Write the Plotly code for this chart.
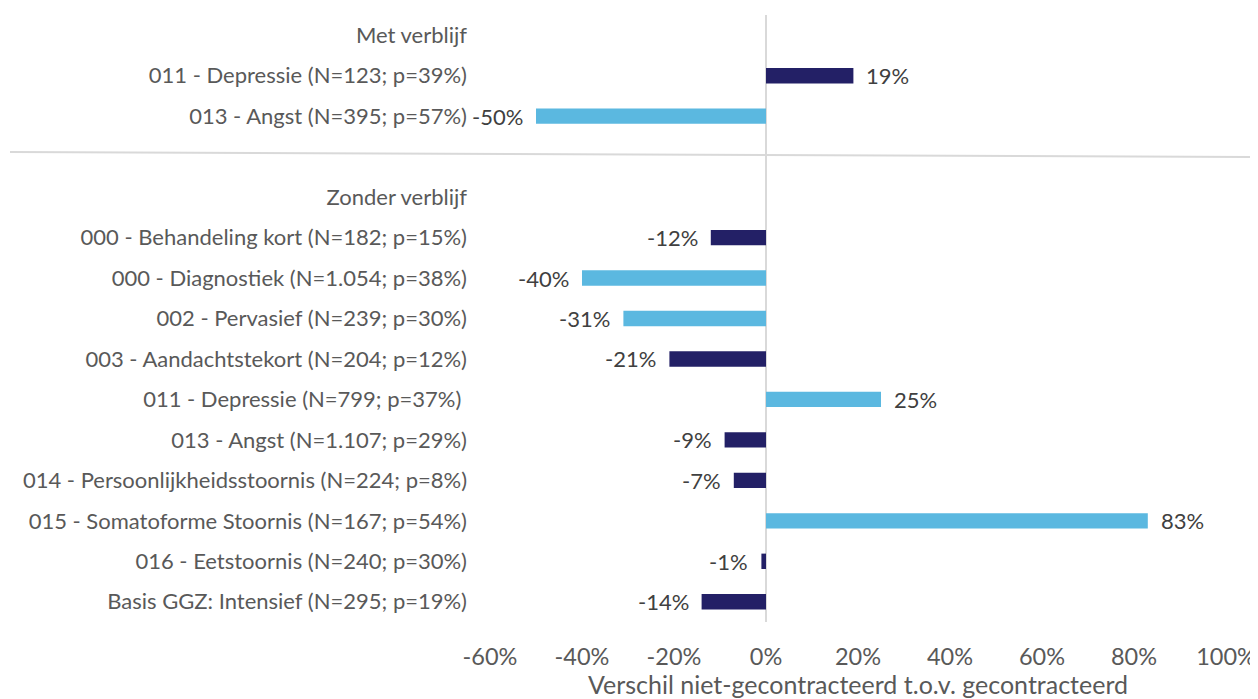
import plotly.graph_objects as go

categories = [
    "Met verblijf",
    "011 - Depressie (N=123; p=39%)",
    "013 - Angst (N=395; p=57%)",
    " ",
    "Zonder verblijf",
    "000 - Behandeling kort (N=182; p=15%)",
    "000 - Diagnostiek (N=1.054; p=38%)",
    "002 - Pervasief (N=239; p=30%)",
    "003 - Aandachtstekort (N=204; p=12%)",
    "011 - Depressie (N=799; p=37%) ",
    "013 - Angst (N=1.107; p=29%)",
    "014 - Persoonlijkheidsstoornis (N=224; p=8%)",
    "015 - Somatoforme Stoornis (N=167; p=54%)",
    "016 - Eetstoornis (N=240; p=30%)",
    "Basis GGZ: Intensief (N=295; p=19%)",
]
values = [None, 19, -50, None, None, -12, -40, -31, -21, 25, -9, -7, 83, -1, -14]
DARK = "#232066"
LIGHT = "#5BB8E0"
colors = [DARK, DARK, LIGHT, DARK, DARK, DARK, LIGHT, LIGHT, DARK, LIGHT, DARK, DARK, LIGHT, DARK, DARK]
tick_vals = [-60, -40, -20, 0, 20, 40, 60, 80, 100]
tick_text = ["-60%", "-40%", "-20%", "0%", "20%", "40%", "60%", "80%", "100%"]

FONT = "Lato, sans-serif"
FS = 22

fig = go.Figure(go.Bar(
    y=categories, x=values, orientation="h",
    marker=dict(color=colors, line=dict(width=0)),
    width=0.38, hoverinfo="x+y",
))

for c, v in zip(categories, values):
    if v is None:
        continue
    fig.add_annotation(
        x=v, y=c, xref="x", yref="y", text=f"{v}%", showarrow=False,
        xanchor="left" if v >= 0 else "right", xshift=11 if v >= 0 else -11,
        font=dict(family=FONT, size=FS, color="#404040"),
    )

W, H = 1250, 691
L, R, T, B = 482, 32, 7, 77
fig.update_layout(
    width=W, height=H,
    margin=dict(l=L, r=R, t=T, b=B, autoexpand=False),
    paper_bgcolor="white", plot_bgcolor="white",
    font=dict(family=FONT, color="#595959"),
    showlegend=False,
    xaxis=dict(
        range=[-60, 100], tickvals=tick_vals, ticktext=tick_text,
        showgrid=False, zeroline=True, zerolinecolor="#d9d9d9", zerolinewidth=2,
        showline=False, ticks="", ticklabelstandoff=18,
        tickfont=dict(size=23.5, color="#595959"),
        title=dict(text="Verschil niet-gecontracteerd t.o.v. gecontracteerd",
                   font=dict(size=25, color="#595959"), standoff=8),
    ),
    yaxis=dict(
        categoryorder="array", categoryarray=categories, autorange="reversed",
        showgrid=False, showline=False, ticks="", ticklabelstandoff=22,
        tickfont=dict(size=FS, color="#595959"),
    ),
)

pw = W - L - R
ph = H - T - B
fig.add_shape(type="line", xref="paper", yref="paper",
              x0=(10 - 8 - L) / pw, x1=(1258 - 8 - L) / pw,
              y0=(H - B - (152 - 8)) / ph, y1=(H - B - (157 - 8)) / ph,
              line=dict(color="#d9d9d9", width=2))

fig.write_html("out.html")
